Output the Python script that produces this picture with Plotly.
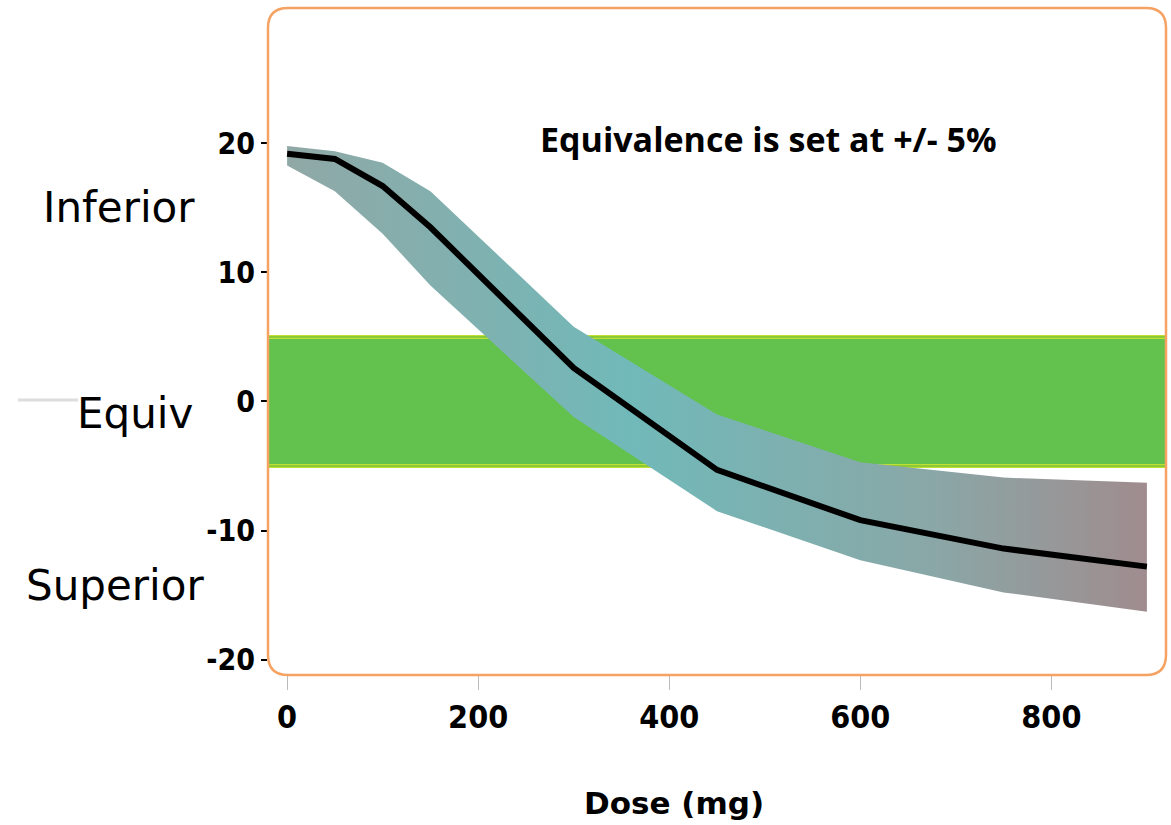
import plotly.graph_objects as go

# ---- data ----
dose = [0, 50, 100, 150, 300, 450, 600, 750, 900]
mean_diff = [19.2, 18.8, 16.7, 13.5, 2.6, -5.3, -9.2, -11.4, -12.8]
upper_ci = [19.8, 19.4, 18.5, 16.3, 5.8, -1.0, -4.7, -5.9, -6.3]
lower_ci = [18.3, 16.3, 13.0, 9.0, -1.2, -8.5, -12.3, -14.8, -16.3]
equiv_margin = 5
y_tick_vals = [-20, -10, 0, 10, 20]
y_tick_labels = ["-20", "-10", "0", "10", "20"]
x_tick_vals = [0, 200, 400, 600, 800]
x_tick_labels = ["0", "200", "400", "600", "800"]
region_labels = ["Inferior", "Equiv", "Superior"]
region_y = [15, -0.9, -14.3]
note_text = "Equivalence is set at +/- 5%"
x_title = "Dose (mg)"

W, H = 1171, 825
L, R, T, B = 268, 5, 8, 150
pw, ph = W - L - R, H - T - B

def px_x(p):
    return (p - L) / pw

def px_y(p):
    return 1 - (p - T) / ph

fig = go.Figure()

# CI band
fig.add_trace(go.Scatter(x=dose, y=upper_ci, mode="lines", line=dict(width=0),
                         hoverinfo="skip", showlegend=False))
fig.add_trace(go.Scatter(x=dose, y=lower_ci, mode="lines", line=dict(width=0),
                         fill="tonexty",
                         fillgradient=dict(type="horizontal",
                                           colorscale=[[0, "#90a8a6"], [0.4, "#71b9b9"],
                                                       [0.75, "#8aa7a7"], [1, "#a08c8e"]]),
                         hoverinfo="skip", showlegend=False))
# mean line
fig.add_trace(go.Scatter(x=dose, y=mean_diff, mode="lines",
                         line=dict(color="black", width=6), showlegend=False))

shapes = []
# equivalence band
shapes.append(dict(type="rect", xref="paper", yref="y", x0=0, x1=1,
                   y0=-equiv_margin, y1=equiv_margin, fillcolor="#63c14d",
                   line=dict(width=0), layer="below"))
for yv in (-equiv_margin, equiv_margin):
    shapes.append(dict(type="line", xref="paper", yref="y", x0=0, x1=1, y0=yv, y1=yv,
                       line=dict(color="#bfe033", width=4), layer="below"))
    shapes.append(dict(type="line", xref="paper", yref="y", x0=0, x1=1, y0=yv, y1=yv,
                       line=dict(color="#5db43a", width=1), layer="below"))
for xv in (0, 1):
    shapes.append(dict(type="line", xref="paper", yref="y", x0=xv, x1=xv,
                       y0=-equiv_margin, y1=equiv_margin,
                       line=dict(color="black", width=2)))

# rounded orange border
rx, ry = 20 / pw, 20 / ph
path = (f"M {rx},0 L {1-rx},0 Q 1,0 1,{ry} L 1,{1-ry} Q 1,1 {1-rx},1 "
        f"L {rx},1 Q 0,1 0,{1-ry} L 0,{ry} Q 0,0 {rx},0 Z")
shapes.append(dict(type="path", xref="paper", yref="paper", path=path,
                   line=dict(color="#f5a263", width=2.5), fillcolor="rgba(0,0,0,0)"))
# faint line next to "Equiv"
shapes.append(dict(type="line", xref="paper", yref="paper", x0=px_x(18), x1=px_x(78),
                   y0=px_y(400), y1=px_y(400), line=dict(color="#dddddd", width=3)))

annotations = []
label_cx = [119, 135, 115]
for txt, yv, cx in zip(region_labels, region_y, label_cx):
    annotations.append(dict(text=txt, xref="paper", yref="y", x=px_x(cx), y=yv,
                            showarrow=False, xanchor="center", yanchor="middle",
                            font=dict(family="DejaVu Sans", size=42, color="black")))
annotations.append(dict(text=note_text, xref="paper", yref="paper",
                        x=px_x(768), y=px_y(139), showarrow=False,
                        xanchor="center", yanchor="middle",
                        font=dict(family="Open Sans", size=34, color="black", weight="bold")))
annotations.append(dict(text=x_title, xref="paper", yref="paper",
                        x=px_x(674), y=px_y(803), showarrow=False,
                        xanchor="center", yanchor="middle",
                        font=dict(family="DejaVu Sans", size=31, color="black", weight="bold")))

fig.update_layout(
    width=W, height=H,
    margin=dict(l=L, r=R, t=T, b=B),
    paper_bgcolor="white", plot_bgcolor="white",
    shapes=shapes, annotations=annotations, showlegend=False,
    xaxis=dict(range=[-20, 920], tickvals=x_tick_vals, ticktext=x_tick_labels,
               showgrid=False, zeroline=False, showline=False,
               ticks="outside", ticklen=14, tickcolor="#bbbbbb", tickwidth=1,
               tickfont=dict(family="DejaVu Sans Condensed", size=32, color="black", weight="bold")),
    yaxis=dict(range=[-21.2, 30.5], tickvals=y_tick_vals, ticktext=y_tick_labels,
               showgrid=False, zeroline=False, showline=False,
               ticks="outside", ticklen=6, tickcolor="black", tickwidth=2,
               tickfont=dict(family="DejaVu Sans Condensed", size=30, color="black", weight="bold")),
)

fig.write_html("out.html", config={"displayModeBar": False},
               post_script="document.body.style.margin='0px';")
